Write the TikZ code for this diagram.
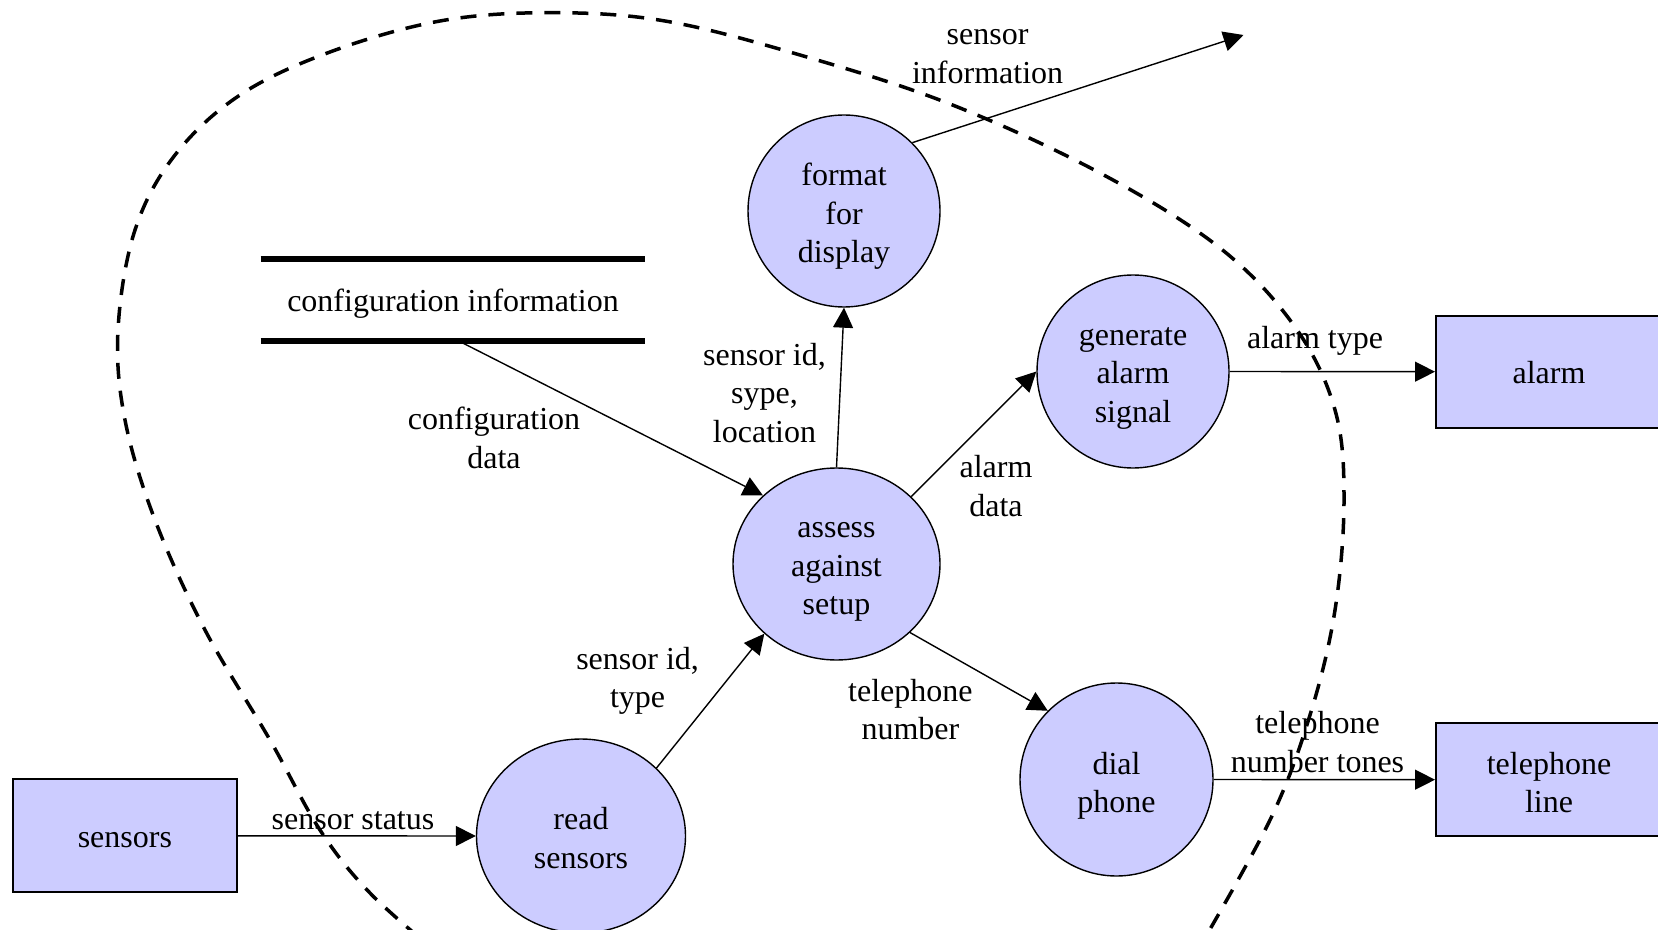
\documentclass[tikz,border=0pt]{standalone}
\usepackage{fontspec}
\setmainfont{Liberation Serif}
\usetikzlibrary{arrows.meta,shapes.geometric,calc}
\definecolor{procfill}{HTML}{CCCCFF}
\tikzset{
  proc/.style={ellipse,draw=black,line width=0.7pt,fill=procfill,inner sep=0pt},
  extent/.style={rectangle,draw=black,line width=1pt,fill=procfill,inner sep=0pt},
  flow/.style={draw=black,line width=0.7pt,-{Triangle[length=10pt,width=10pt]}},
  lbl/.style={align=center,inner sep=0pt},
  boundary/.style={draw=black,line width=1.75pt,dash pattern=on 8pt off 6pt}
}
\begin{document}
\begin{tikzpicture}[x=0.5pt,y=-0.5pt,every node/.append style={font=\fontsize{16}{19.25}\selectfont}]
\useasboundingbox (0,0) rectangle (1658,930);
\clip (0,0) rectangle (1658,930);
% system boundary
\draw[boundary] plot[smooth,tension=0.6] coordinates {(440,955) (370,893) (320,830) (270,740) (205,630) (155,520) (125,420) (118,330) (135,230) (175,155) (240,95) (330,52) (440,21) (550,12.7) (665,21) (800,55) (950,104) (1100,173) (1220,248) (1295,327) (1335,410) (1344,500) (1335,610) (1310,715) (1270,820) (1195,955)};
% data store
\node[lbl,minimum width=192pt,minimum height=40.5pt] (store) at (453,299.7) {};
\node[lbl] (storet) at ([yshift=-2pt]store.center) {configuration information};
\draw[line width=3pt] (store.north west) -- (store.north east);
\draw[line width=3pt] (store.south west) -- (store.south east);
% terminators
\node[extent,minimum width=112pt,minimum height=56.5pt] (sensors) at (124.9,835.8) {};
\node[lbl] (sensorst) at ([yshift=-2pt]sensors.center) {sensors};
\node[extent,minimum width=113pt,minimum height=56pt] (alarm) at (1549,371.7) {};
\node[lbl] (alarmt) at ([yshift=-0.6pt]alarm.center) {alarm};
\node[extent,minimum width=113pt,minimum height=56.5pt] (tel) at (1549,779.7) {};
\node[lbl] (telt) at ([yshift=-1.3pt]tel.center) {telephone\\line};
% processes
\node[proc,minimum width=104.5pt,minimum height=97pt] (read) at (581,836) {};
\node[lbl] (readt) at ([yshift=-1pt]read.center) {read\\sensors};
\node[proc,minimum width=103.5pt,minimum height=96pt] (as) at (836.5,564) {};
\node[lbl] (ast) at ([yshift=-4pt]as.center) {assess\\against\\setup};
\node[proc,minimum width=96pt,minimum height=96pt] (fmt) at (844,211) {};
\node[lbl] (fmtt) at ([yshift=-2.6pt]fmt.center) {format\\for\\display};
\node[proc,minimum width=96pt,minimum height=96.5pt] (gen) at (1133,371.5) {};
\node[lbl] (gent) at ([yshift=-3.4pt]gen.center) {generate\\alarm\\signal};
\node[proc,minimum width=96.5pt,minimum height=96.5pt] (dial) at (1116.5,779.5) {};
\node[lbl] (dialt) at ([yshift=-3.1pt]dial.center) {dial\\phone};
\coordinate (out) at (1243.5,35);
% flows
\draw[flow] (sensors.east) -- (read.west);
\draw[flow] (read.42) -- (as.224);
\draw[flow] ([xshift=2.5pt]store.south) -- (as.137);
\draw[flow] (as.north) -- (fmt.south);
\draw[flow] (fmt.45) -- (out);
\draw[flow] (as.42) -- (gen.west);
\draw[flow] (as.-43) -- (dial.135);
\draw[flow] (gen.east) -- (alarm.west);
\draw[flow] (dial.east) -- (tel.west);
% labels
\node[lbl] (l1) at (353,820.5) {sensor status};
\node[lbl] (l2) at (637.6,681) {sensor id,\\type};
\node[lbl] (l3) at (494,438) {configuration\\data};
\node[lbl] (l4) at (764.5,393) {sensor id,\\sype,\\location};
\node[lbl] (l5) at (987.6,56.5) {sensor\\information};
\node[lbl] (l6) at (996,486) {alarm\\data};
\node[lbl] (l7) at (1315,341) {alarm type};
\node[lbl] (l8) at (910.4,709.5) {telephone\\number};
\node[lbl] (l9) at (1317.5,742) {telephone\\number tones};
\end{tikzpicture}
\end{document}
